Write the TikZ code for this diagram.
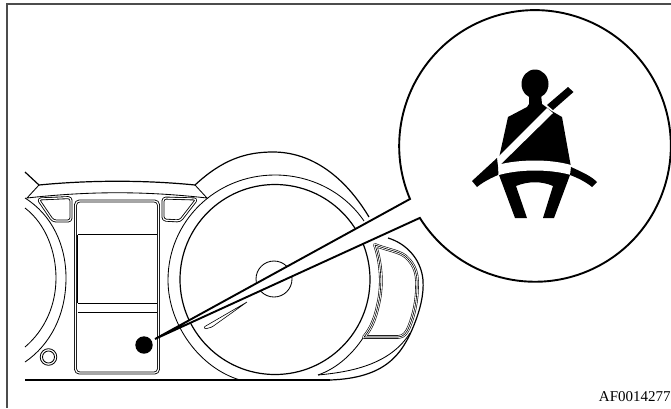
\documentclass[tikz,border=0pt]{standalone}
\usepackage{fontspec}
\setmainfont{Liberation Serif}
\tikzset{
 frameline/.style={line width=1.2pt,draw=black!70},
 thin line/.style={line width=0.85pt,black},
 med line/.style={line width=1.2pt,black},
 thick line/.style={line width=1.9pt,black},
 doubleline/.style={line width=0.85pt,black,double=white,double distance=1.2pt,line join=round},
 tripleline/.style={line width=0.6pt,black,double=white,double distance=2.4pt,line join=round},
 triplecore/.style={line width=0.6pt,black,line join=round},
 symbolfill/.style={fill=black,draw=none},
 white fill/.style={fill=white,draw=none},
}
\begin{document}
\begin{tikzpicture}[x=1pt,y=-1pt]
\useasboundingbox (0,0) rectangle (671,408);
\fill[white] (0,0) rectangle (671,408);
% frame
\draw[frameline] (671,4) -- (7,4) -- (7,408);
% left gauge arcs
\draw[thin line] (25,208) .. controls (46,224) and (56,252) .. (56,278) .. controls (56,305) and (45,330) .. (25,347);
\draw[thin line] (25,198) .. controls (52,215) and (66,245) .. (66,278) .. controls (66,315) and (50,345) .. (25,362);
% trim
\draw[med line] (25,172) -- (39,185) .. controls (90,180) and (145,180) .. (195,185) .. controls (222,160) and (245,152) .. (273,152) .. controls (312,152) and (345,177) .. (369,217);
\draw[thin line] (39,185) -- (27,198) .. controls (90,191) and (145,191) .. (207,198) -- (195,185);
% pods
\draw[doubleline,rounded corners=3pt] (38,199) -- (71,197.5) -- (71,221) -- (53,221) -- cycle;
\draw[doubleline,rounded corners=3pt] (163,198) -- (197,199) -- (180,221) -- (163,220) -- cycle;
% central panel
\draw[doubleline,rounded corners=4pt] (75.5,201) rectangle (158.5,373);
\draw[thin line] (77.5,234.5) -- (156.5,234.5);
\draw[thin line] (77.5,303) -- (156.5,303);
\draw[thin line] (77.5,312) -- (156.5,312);
\draw[thin line] (77.5,234.5) -- (77.5,303);
% knob
\draw[thin line] (48.5,357) circle (8.3);
\draw[thin line] (48.5,357) circle (6);
% speedometer
\begin{scope}
\clip (160,150) rectangle (400,379);
\draw[med line] (275,279.5) circle (95);
\end{scope}
\draw[thin line] (240,380) .. controls (200,368) and (168,325) .. (168,280) .. controls (168,222) and (215,175) .. (275,175) .. controls (312,175) and (345,193) .. (364,221);
\draw[thin line] (318,375) .. controls (338,368) and (353,353) .. (363,338);
% hub
\draw[thin line] (274,279) circle (18);
% needle
\draw[line width=0.6pt,black,rounded corners=1pt] (247,302) -- (204,327) -- (205,329) -- (212,327) -- (247,302);
% right pod
\def\podpath{(375,245) .. controls (381,262) and (383,285) .. (378,305) .. controls (375,320) and (370,330) .. (364,337) -- (398,337) .. controls (404,337) and (407,332) .. (409,327) .. controls (414,315) and (417,300) .. (417,287) .. controls (418,270) and (412,262) .. (405,256) .. controls (398,251) and (388,250) .. (375,245) -- cycle}
\draw[tripleline] \podpath;
\draw[triplecore] \podpath;
\draw[med line] (388,238) .. controls (405,243) and (421,258) .. (423,280) .. controls (424,295) and (420,310) .. (414,325) .. controls (402,355) and (385,378) .. (330,380);
\draw[thin line] (318,375) .. controls (350,372) and (390,365) .. (410,333);
% bottom line
\draw[line width=2.4pt,black] (25,380) -- (330,380);
% wedge and bubble
\fill[white] (155,339) -- (410,199) -- (420,218) -- cycle;
\path[white fill] (535,146) circle (135.8);
\draw[thick line,line join=miter] (155,339) -- (410,199) arc[start angle=157,end angle=508,radius=135.8] -- cycle;
% indicator dot
\fill (144,345) circle (8.7);
% seat belt icon
\fill (535,84) ellipse (13.5 and 14.5);
\path[symbolfill] (529,94) -- (529,104) -- (527,107) -- (508,117) -- (497,167) -- (499,175) -- (515,218) -- (527,218) -- (516,186) .. controls (528,181) and (542,181) .. (553,186) -- (543,218) -- (554,218) -- (570,175) -- (571,167) -- (562,117) -- (550,110) -- (542,104) -- (541,94) -- cycle;
\path[white fill] (547,108) -- (553,113) -- (498,167) -- (497,158) -- cycle;
\path[white fill] (497,165) .. controls (520,159) and (550,159) .. (571,165) -- (571,175) .. controls (550,169) and (520,169) .. (499,175) -- cycle;
\path[symbolfill] (568,87) -- (573.5,92) -- (553,110) -- (547,105) -- cycle;
\path[symbolfill] (497,158) -- (498,167) -- (498,175) .. controls (491,178) and (483,182) .. (477,187) -- (472,181) -- cycle;
\path[symbolfill] (571,167) .. controls (582,172) and (591,176) .. (597,182) -- (592,187) .. controls (586,182) and (578,178) .. (570,175) -- cycle;
% label
\node[anchor=base east,inner sep=0pt,font=\fontsize{15}{17}\selectfont] (code) at (670.8,401.5) {AF0014277};
\end{tikzpicture}
\end{document}
